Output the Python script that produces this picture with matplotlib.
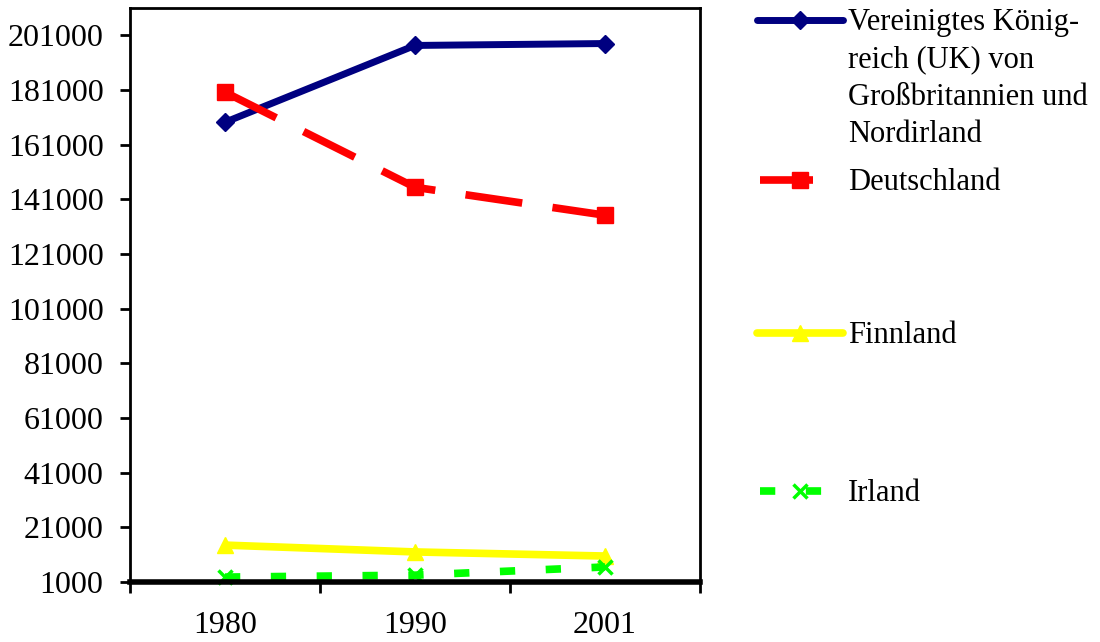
import numpy as np
import matplotlib.pyplot as plt
from matplotlib.lines import Line2D

plt.rcParams['font.family'] = ['Liberation Serif', 'DejaVu Serif']

years = ['1980', '1990', '2001']
uk = [169200, 197300, 198000]
de = [180200, 145400, 135200]
fi = [14500, 12000, 10500]
ie = [2800, 3500, 6500]
labels = ['Vereinigtes König-\nreich (UK) von\nGroßbritannien und\nNordirland',
          'Deutschland', 'Finnland', 'Irland']
y_ticks = list(range(1000, 201001, 20000))

fig = plt.figure(figsize=(11, 6.42), dpi=100)
ax = fig.add_axes([130 / 1100, 60 / 642, 570 / 1100, 574 / 642])

x = np.arange(len(years))
styles = [
    dict(color='#000080', lw=5, marker='D', ms=9, ls='-'),
    dict(color='#ff0000', lw=5.5, marker='s', ms=11, dashes=(7.5, 4.0)),
    dict(color='#ffff00', lw=5.5, marker='^', ms=11, ls='-'),
    dict(color='#00ff00', lw=5.5, marker='x', ms=10, mew=2.5, dashes=(2.0, 4.0)),
]
series = [uk, de, fi, ie]
for vals, st in zip(series, styles):
    ax.plot(x, vals, solid_capstyle='butt', dash_capstyle='butt', clip_on=False, **st)

ax.set_xlim(-0.5, 2.5)
ax.set_ylim(1000, 211000)
ax.set_yticks(y_ticks)
ax.set_yticklabels([str(v) for v in y_ticks], fontsize=23)
ax.set_xticks([-0.5, 0.5, 1.5, 2.5])
ax.set_xticklabels([])
ax.set_xticks(x, minor=True)
ax.set_xticklabels(years, minor=True, fontsize=23)
ax.tick_params(axis='x', which='major', direction='out', length=8, width=2)
ax.tick_params(axis='x', which='minor', length=0, pad=21)
ax.tick_params(axis='y', direction='out', length=7, width=2, pad=12)
for s in ax.spines.values():
    s.set_linewidth(2)
ax.spines['bottom'].set_linewidth(4)

# manual legend, Excel style spacing
leg_y = [20, 180, 333, 491]
leg_x = [(757, 843), (760, 813), (757, 843), (760, 822)]
for lab, st, yy, (x0, x1) in zip(labels, styles, leg_y, leg_x):
    yf = 1 - yy / 642
    h = Line2D([x0 / 1100, x1 / 1100], [yf, yf], transform=fig.transFigure,
               solid_capstyle='round' if st.get('ls') == '-' else 'butt',
               dash_capstyle='butt', **{k: v for k, v in st.items() if k not in ('marker', 'ms', 'mew')})
    fig.add_artist(h)
    m = Line2D([800 / 1100], [yf], transform=fig.transFigure, ls='none',
               marker=st['marker'], color=st['color'], ms=st['ms'], mew=st.get('mew', 1))
    fig.add_artist(m)
    fig.text(848 / 1100, yf + 12 / 642, lab, fontsize=22, va='top', ha='left',
             linespacing=1.38)

fig.savefig('out.png', dpi=100)
